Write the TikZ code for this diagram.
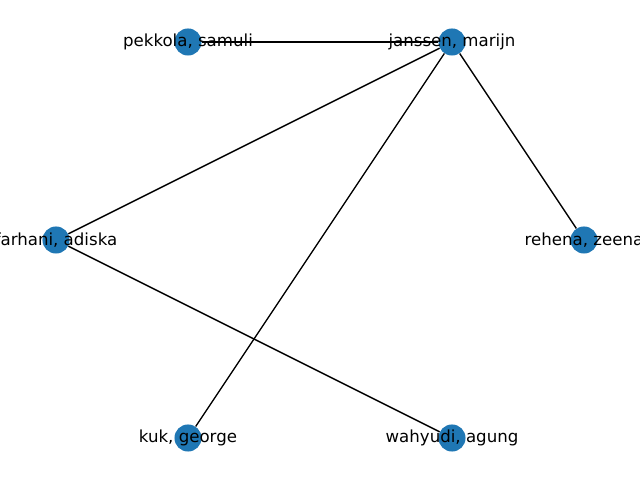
\documentclass[tikz,border=0pt]{standalone}
\usepackage{fontspec}
\setmainfont{DejaVu Sans}
\definecolor{nodeblue}{HTML}{1F77B4}

\begin{document}
\begin{tikzpicture}[x=0.01in, y=-0.01in,
    person/.style={circle, fill=nodeblue, inner sep=0pt, minimum size=19.54pt},
    plabel/.style={font=\fontsize{12}{14}\selectfont, inner sep=0pt, text=black},
    link/.style={black, line width=1pt}]

% Canvas
\useasboundingbox (0,0) rectangle (640,480);
\clip (0,0) rectangle (640,480);

% Nodes of the circle layout
\foreach \id/\x/\y in {pekkola/188/42, janssen/452/42, farhani/56/240,
                       rehena/584/240, kuk/188/438, wahyudi/452/438} {
    \node[person] (\id) at (\x,\y) {};
}

% Edges
\foreach \a/\b in {pekkola/janssen, janssen/farhani, janssen/kuk,
                   janssen/rehena, farhani/wahyudi} {
    \draw[link] (\a) -- (\b);
}

% Labels
\node[plabel] at (pekkola.center) {pekkola, samuli};
\node[plabel] at (janssen.center) {janssen, marijn};
\node[plabel] at (farhani.center) {farhani, adiska};
\node[plabel] at (rehena.center) {rehena, zeena};
\node[plabel] at (kuk.center) {kuk, george};
\node[plabel] at (wahyudi.center) {wahyudi, agung};

\end{tikzpicture}
\end{document}
